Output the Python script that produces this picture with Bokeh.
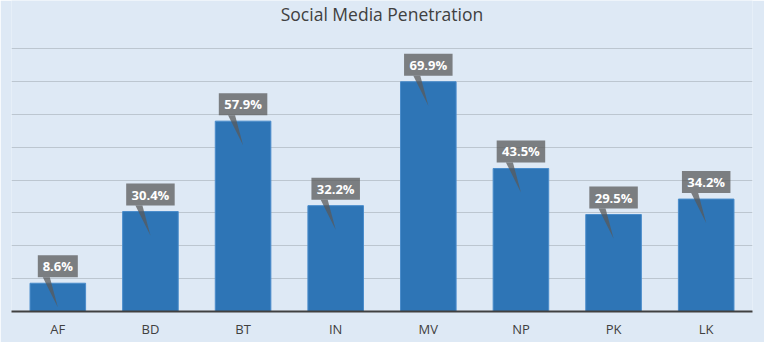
from bokeh.plotting import figure
from bokeh.models import Range1d, FixedTicker, ColumnDataSource, Label
from bokeh.core.properties import value
from bokeh.embed import file_html
from bokeh.resources import INLINE

categories = ["AF", "BD", "BT", "IN", "MV", "NP", "PK", "LK"]
penetration = [8.6, 30.4, 57.9, 32.2, 69.9, 43.5, 29.5, 34.2]
labels = [f"{v:.1f}%" for v in penetration]
y_max = 80
y_ticks = [10, 20, 30, 40, 50, 60, 70, 80]
title_text = "Social Media Penetration"

W, H = 764, 342
left, right, top, bottom = 11, 12, 48, 31
frame_w = W - left - right
plot_h = H - top - bottom          # height of the 0..y_max area
px_y = y_max / plot_h              # data units per screen pixel (vertical)
px_x = len(categories) / frame_w   # data units per screen pixel (horizontal)

bg = "#dee9f5"
p = figure(width=W, height=H, output_backend="svg", toolbar_location=None,
           x_range=Range1d(0, len(categories)), y_range=Range1d(0, y_max + top * px_y),
           min_border_left=left, min_border_right=right,
           min_border_top=0, min_border_bottom=bottom,
           background_fill_color=bg, border_fill_color=bg)
p.outline_line_color = None
p.title.visible = False

p.add_layout(Label(x=len(categories) / 2, y=y_max + 35 * px_y,
                   text=title_text, text_align="center", text_baseline="middle",
                   text_font="Open Sans", text_font_size="17.5px", text_color="#404040"))

xs = [i + 0.5 for i in range(len(categories))]
src = ColumnDataSource(dict(x=xs, top=penetration, label=labels))

p.vbar(x="x", top="top", width=0.6, source=src, fill_color="#2e75b6",
       line_color="#4a8ccb", line_width=1)

# callout boxes
box_w = [(len(s) * 8.5 + 6) for s in labels]
src_box = ColumnDataSource(dict(x=xs, y=[v + 17 * px_y for v in penetration], w=box_w, label=labels))
p.rect(x="x", y="y", width="w", height=22, width_units="screen", height_units="screen",
       source=src_box, fill_color="#595959", fill_alpha=0.75, line_color=None)
# pointers
tri_xs = [[x - 15 * px_x, x - 8 * px_x, x] for x in xs]
tri_ys = [[v + 6 * px_y, v + 6 * px_y, v - 24 * px_y] for v in penetration]
p.patches(tri_xs, tri_ys, fill_color="#595959", fill_alpha=0.75, line_color=None)
p.text(x="x", y="y", text="label", source=src_box, text_align="center", text_baseline="middle",
       text_font=value("Open Sans"), text_font_size="13px", text_font_style="bold",
       text_color="white")

p.xaxis.ticker = FixedTicker(ticks=xs)
p.xaxis.major_label_overrides = {x: c for x, c in zip(xs, categories)}
p.xaxis.axis_line_color = "#404040"
p.xaxis.axis_line_width = 2
p.xaxis.major_tick_line_color = None
p.xaxis.minor_tick_line_color = None
p.xaxis.major_tick_out = 0
p.xaxis.major_tick_in = 0
p.xaxis.major_label_text_font = "Open Sans"
p.xaxis.major_label_text_font_size = "13px"
p.xaxis.major_label_text_color = "#404040"
p.xaxis.major_label_standoff = 8
p.yaxis.visible = False
p.xgrid.grid_line_color = None
p.ygrid.ticker = FixedTicker(ticks=y_ticks)
p.ygrid.grid_line_color = "#bcc6d0"
p.ygrid.grid_line_width = 1

open("out.html", "w").write(file_html(p, INLINE))
